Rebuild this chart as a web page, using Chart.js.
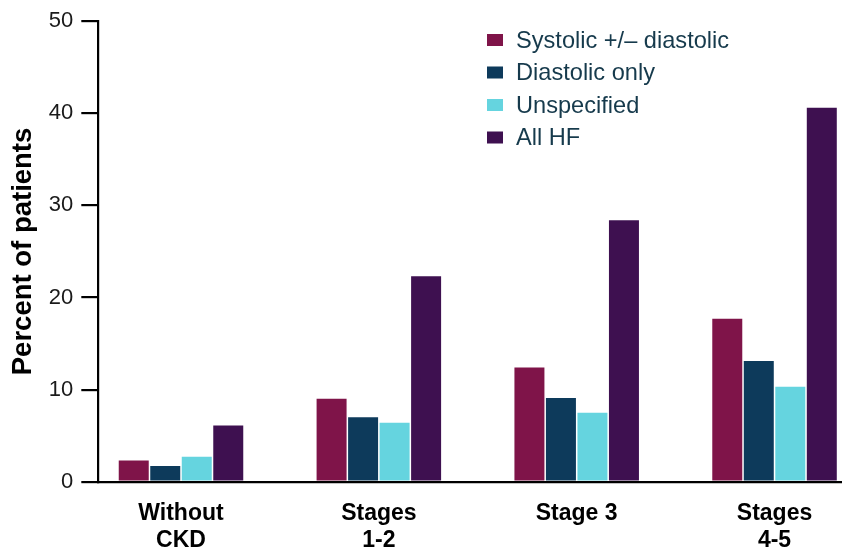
<!DOCTYPE html>
<html>
<head>
<meta charset="utf-8">
<script src="https://cdn.jsdelivr.net/npm/chart.js@4.4.1/dist/chart.umd.min.js"></script>
<style>
  html, body { margin: 0; padding: 0; background: #ffffff; overflow: hidden; }
  #wrap { width: 842px; height: 551px; position: relative; }
</style>
</head>
<body>
<div id="wrap"><canvas id="c" width="842" height="551"></canvas></div>
<script>
// ---- Data ----
const categories = [["Without", "CKD"], ["Stages", "1-2"], ["Stage 3"], ["Stages", "4-5"]];
const seriesNames = ["Systolic +/\u2013 diastolic", "Diastolic only", "Unspecified", "All HF"];
const systolic = [2.3, 9.0, 12.4, 17.7];
const diastolicOnly = [1.7, 7.0, 9.1, 13.1];
const unspecified = [2.7, 6.4, 7.5, 10.3];
const allHF = [6.1, 22.3, 28.4, 40.6];
const yTicks = [0, 10, 20, 30, 40, 50];
const yTitle = "Percent of patients";

const colors = ["#7f1449", "#0d3a5b", "#65d4df", "#3e1050"];
const seriesValues = [systolic, diastolicOnly, unspecified, allHF];

const datasets = seriesValues.map((vals, i) => ({
  label: seriesNames[i],
  data: vals.map((v, k) => ({ x: k, y: v })),
  backgroundColor: colors[i],
  borderWidth: 0,
  categoryPercentage: 0.637,
  barPercentage: 0.952
}));

const legendPlugin = {
  id: 'customLegend',
  afterDraw(chart) {
    const ctx = chart.ctx;
    ctx.save();
    ctx.font = '23.6px "Liberation Sans", Arial, sans-serif';
    ctx.textBaseline = 'middle';
    ctx.textAlign = 'left';
    const rows = [40, 72.5, 105, 137.5];
    chart.data.datasets.forEach((ds, i) => {
      const cy = rows[i];
      ctx.fillStyle = ds.backgroundColor;
      ctx.fillRect(487, cy - 6, 16, 12);
      ctx.fillStyle = '#163a4c';
      ctx.fillText(ds.label, 516, cy + 1);
    });
    ctx.restore();
  }
};

new Chart(document.getElementById('c'), {
  type: 'bar',
  data: { datasets },
  plugins: [legendPlugin],
  options: {
    responsive: false,
    animation: false,
    layout: { padding: { top: 19, right: 0, left: 0, bottom: 0 } },
    plugins: { legend: { display: false }, tooltip: { enabled: false } },
    scales: {
      x: {
        type: 'linear',
        offset: false,
        bounds: 'data',
        min: -0.418,
        max: 3.341,
        afterBuildTicks(scale) {
          scale.ticks = categories.map((c, i) => ({ value: i }));
        },
        afterFit(scale) { scale.height = 69.3; },
        grid: { display: true, offset: false, drawOnChartArea: false, drawTicks: false },
        border: { display: true, color: '#000000', width: 2.2 },
        ticks: {
          callback: (v) => categories[v],
          maxRotation: 0,
          autoSkip: false,
          padding: 18,
          color: '#000000',
          font: { family: '"Liberation Sans", Arial, sans-serif', size: 23, weight: 'bold', lineHeight: 1.174 }
        }
      },
      y: {
        min: 0,
        max: 50,
        afterBuildTicks(scale) {
          scale.ticks = yTicks.map(v => ({ value: v }));
        },
        afterFit(scale) { scale.width = 98.3; },
        grid: { display: true, drawOnChartArea: false, drawTicks: true, tickLength: 17, color: '#000000', lineWidth: 2.2 },
        border: { display: true, color: '#000000', width: 2.2 },
        ticks: {
          padding: 8,
          color: '#1a1a1a',
          font: { family: '"Liberation Sans", Arial, sans-serif', size: 22 }
        },
        title: {
          display: true,
          text: yTitle,
          color: '#000000',
          padding: { top: 7, bottom: 0 },
          font: { family: '"Liberation Sans", Arial, sans-serif', size: 27.5, weight: 'bold' }
        }
      }
    }
  }
});
</script>
</body>
</html>
